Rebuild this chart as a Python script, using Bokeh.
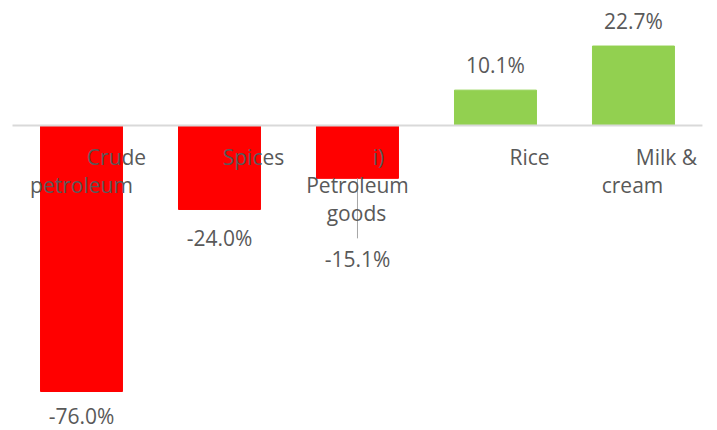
from bokeh.plotting import figure
from bokeh.models import Range1d, ColumnDataSource
from bokeh.core.properties import value
from bokeh.embed import file_html
from bokeh.resources import INLINE

# ---- data ----
categories = ["Crude petroleum", "Spices", "i) Petroleum goods", "Rice", "Milk & cream"]
values = [-76.0, -24.0, -15.1, 10.1, 22.7]
value_labels = ["-76.0%", "-24.0%", "-15.1%", "10.1%", "22.7%"]
# wrapped category label lines: (category index, text)
label_lines = [(0, "Crude"), (0, "petroleum"), (1, "Spices"), (2, "i)"),
               (2, "Petroleum"), (2, "goods"), (3, "Rice"), (4, "Milk &"), (4, "cream")]

# ---- layout ----
W, H = 717, 430
ymin, ymax = -87.14, 35.71
px_per_unit = H / (ymax - ymin)
line_dx = [35, 0, 34, 21, 0, -1, 34, 33, -1]
line_dy = [32, 60, 32, 32, 60, 88, 32, 32, 60]
label_dy = [24, 29, 81, -25, -25]  # px below (positive) / above (negative) bar end
FONT = "Open Sans"
TXT = "#595959"

p = figure(width=W, height=H, output_backend="svg", toolbar_location=None,
           x_range=Range1d(-0.587, 4.609), y_range=Range1d(ymin, ymax),
           min_border=0, min_border_left=0, min_border_right=0,
           min_border_top=0, min_border_bottom=0)
p.axis.visible = False
p.grid.visible = False
p.outline_line_color = None
p.background_fill_color = "white"
p.border_fill_color = "white"

idx = list(range(len(categories)))
colors = ["#FF0000" if v < 0 else "#92D050" for v in values]
src = ColumnDataSource(dict(x=idx, top=values, color=colors, lab=value_labels, dy=label_dy))
p.vbar(x="x", top="top", bottom=0, width=0.594, color="color", source=src)

# zero line
p.segment(x0=[-0.5], y0=[0], x1=[len(categories) - 0.5], y1=[0], line_color="#D9D9D9", line_width=2)

# leader line for the moved -15.1% label
lead_end = values[2] - (label_dy[2] - 21) / px_per_unit
p.segment(x0=[2], y0=[values[2]], x1=[2], y1=[lead_end], line_color="#A6A6A6", line_width=1)

# value labels
p.text(x="x", y="top", text="lab", y_offset="dy", source=src, text_align="center",
       text_baseline="middle", text_font=value(FONT), text_font_size="21px", text_color=TXT)

# category labels
lsrc = ColumnDataSource(dict(x=[l[0] for l in label_lines], y=[0] * len(label_lines),
                             t=[l[1] for l in label_lines], dx=line_dx, dy=line_dy))
p.text(x="x", y="y", text="t", x_offset="dx", y_offset="dy", source=lsrc, text_align="center",
       text_baseline="middle", text_font=value(FONT), text_font_size="21px", text_color=TXT)

open("out.html", "w").write(file_html(p, INLINE))
